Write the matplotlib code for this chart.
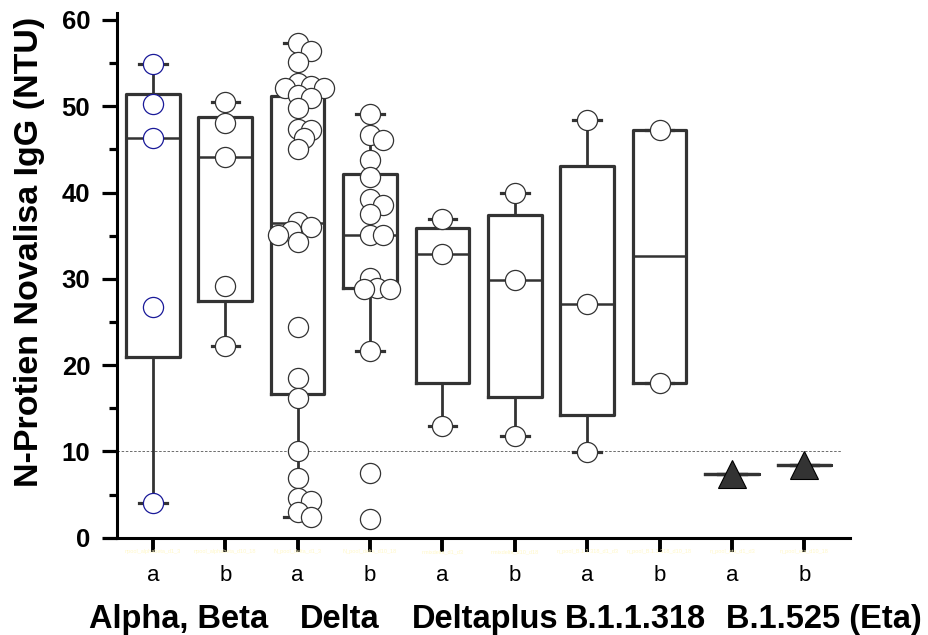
import matplotlib
matplotlib.use("Agg")
import matplotlib.pyplot as plt
import numpy as np

plt.rcParams['font.family'] = ['Liberation Sans', 'DejaVu Sans']

# box statistics per group (a = d1-3, b = d10-18)
positions = [1, 2, 3, 4, 5, 6, 7, 8, 9, 10]
med    = [46.3, 44.1, 36.5, 35.1, 32.9, 29.9, 27.1, 32.6, 7.4, 8.4]
q1     = [20.9, 27.4, 16.7, 28.9, 17.9, 16.3, 14.2, 17.9, 7.4, 8.4]
q3     = [51.4, 48.7, 51.2, 42.2, 35.9, 37.4, 43.1, 47.2, 7.4, 8.4]
whislo = [4.0, 22.2, 2.4, 21.6, 12.9, 11.8, 9.9, 17.9, 7.4, 8.4]
whishi = [54.9, 50.5, 57.3, 49.1, 36.9, 39.9, 48.4, 47.2, 7.4, 8.4]

# individual samples
alpha_a = [54.9, 50.3, 46.3, 26.7, 4.0]
alpha_b = [50.5, 48.1, 44.1, 29.2, 22.2]
delta_a = [57.3, 56.4, 55.1, 52.7, 52.3, 52.1, 52.1, 51.3, 50.9, 49.8, 47.4, 47.3,
           46.3, 45.1, 36.6, 36.0, 35.5, 35.1, 34.3, 24.4, 18.5, 16.2, 10.0, 6.9,
           4.6, 4.3, 3.0, 2.4]
delta_b = [49.1, 46.7, 46.1, 43.8, 41.8, 39.3, 38.6, 37.5, 35.1, 35.1, 30.1, 28.9,
           28.8, 28.8, 21.6, 7.5, 2.2]
dplus_a = [36.9, 32.9, 12.9]
dplus_b = [39.9, 29.9, 11.8]
b318_a = [48.4, 27.1, 9.9]
b318_b = [47.2, 17.9]
eta_a = [7.4]
eta_b = [8.4]
samples = [alpha_a, alpha_b, delta_a, delta_b, dplus_a, dplus_b, b318_a, b318_b]

tick_labels = ['a', 'b', 'a', 'b', 'a', 'b', 'a', 'b', 'a', 'b']
hidden_labels = ['npool_alphabeta_d1_3', 'npool_alphabeta_d10_18', 'N_pool_delta_d1_3',
                 'N_pool_delta_d10_18', 'nmixdelta_d1_d3', 'nmixdelta_d10_d18',
                 'n_pool_B.1.1.318_d1_d3', 'n_pool_B.1.1.318_d10_18',
                 'n_pool_eta_d1_d3', 'n_pool_eta_d10_18']
group_names = ['Alpha, Beta', 'Delta', 'Deltaplus', 'B.1.1.318', 'B.1.525 (Eta)']
group_x = [1.35, 3.58, 5.59, 7.67, 10.27]
cutoff = 10

dark = '#333333'


def swarm(vals, ppu_y=8.63, ppu_x=72.4, dmin=10.5, step=6.5):
    # simple beeswarm: shift points sideways until they are dmin px apart
    placed = []
    offs = []
    for v in vals:
        k = 0
        while True:
            for cand in ([0] if k == 0 else [k * step, -k * step]):
                ok = all(np.hypot(cand - px, (v - py) * ppu_y) >= dmin for px, py in placed)
                if ok:
                    break
            else:
                k += 1
                continue
            break
        placed.append((cand, v))
        offs.append(cand / ppu_x)
    return np.array(offs)


fig = plt.figure(figsize=(9.29, 6.35), dpi=100)
ax = fig.add_axes([0.1256, 0.1532, 0.915 - 0.1256, 0.9795 - 0.1532])

stats = []
for i in range(len(positions)):
    stats.append(dict(med=med[i], q1=q1[i], q3=q3[i], whislo=whislo[i], whishi=whishi[i], fliers=[]))

ax.bxp(stats, positions=positions, widths=0.74, showfliers=False, capwidths=0.38,
       boxprops=dict(color=dark, linewidth=2.3),
       medianprops=dict(color=dark, linewidth=1.8),
       whiskerprops=dict(color=dark, linewidth=2.0),
       capprops=dict(color=dark, linewidth=2.3))

ax.hlines(cutoff, 0.5, 10.5, colors='#555555', linestyles=(0, (3, 2)), linewidth=0.6, zorder=1)

for i, vals in enumerate(samples):
    xs = positions[i] + swarm(vals)
    ec = '#1a1a99' if i == 0 else dark
    ax.plot(xs, vals, 'o', ms=14.5, mfc='white', mec=ec, mew=0.9, zorder=5)

ax.plot([positions[8]], eta_a, '^', ms=20, mfc=dark, mec='black', mew=0.8, zorder=5)
ax.plot([positions[9]], eta_b, '^', ms=20, mfc=dark, mec='black', mew=0.8, zorder=5)

ax.set_xlim(0.5, 10.63)
ax.set_ylim(0, 60.8)
ax.spines['top'].set_visible(False)
ax.spines['right'].set_visible(False)
ax.spines['left'].set_linewidth(2.2)
ax.spines['bottom'].set_linewidth(2.2)

ax.set_yticks(np.arange(0, 61, 10))
ax.set_yticks(np.arange(5, 60, 10), minor=True)
ax.tick_params(axis='y', which='major', length=11, width=2.3, pad=8, labelsize=18.5)
ax.tick_params(axis='y', which='minor', length=6, width=2.3)
for lab in ax.get_yticklabels():
    lab.set_fontweight('bold')

ax.set_xticks(positions)
ax.set_xticklabels(tick_labels)
ax.tick_params(axis='x', which='major', length=10, width=2.8, pad=10, labelsize=16)

for p, name in zip(positions, hidden_labels):
    ax.text(p, -0.026, name, transform=ax.get_xaxis_transform(), ha='center', va='center',
            fontsize=4, color='#fff8c8')

for gx, gname in zip(group_x, group_names):
    ax.text(gx, -0.155, gname, transform=ax.get_xaxis_transform(), ha='center', va='center',
            fontsize=23.5, fontweight='bold')

ax.set_ylabel('N-Protien Novalisa IgG (NTU)', fontsize=24.5, fontweight='bold')
ax.yaxis.set_label_coords(-0.098, 0.545)

fig.savefig('out.png', dpi=100)
